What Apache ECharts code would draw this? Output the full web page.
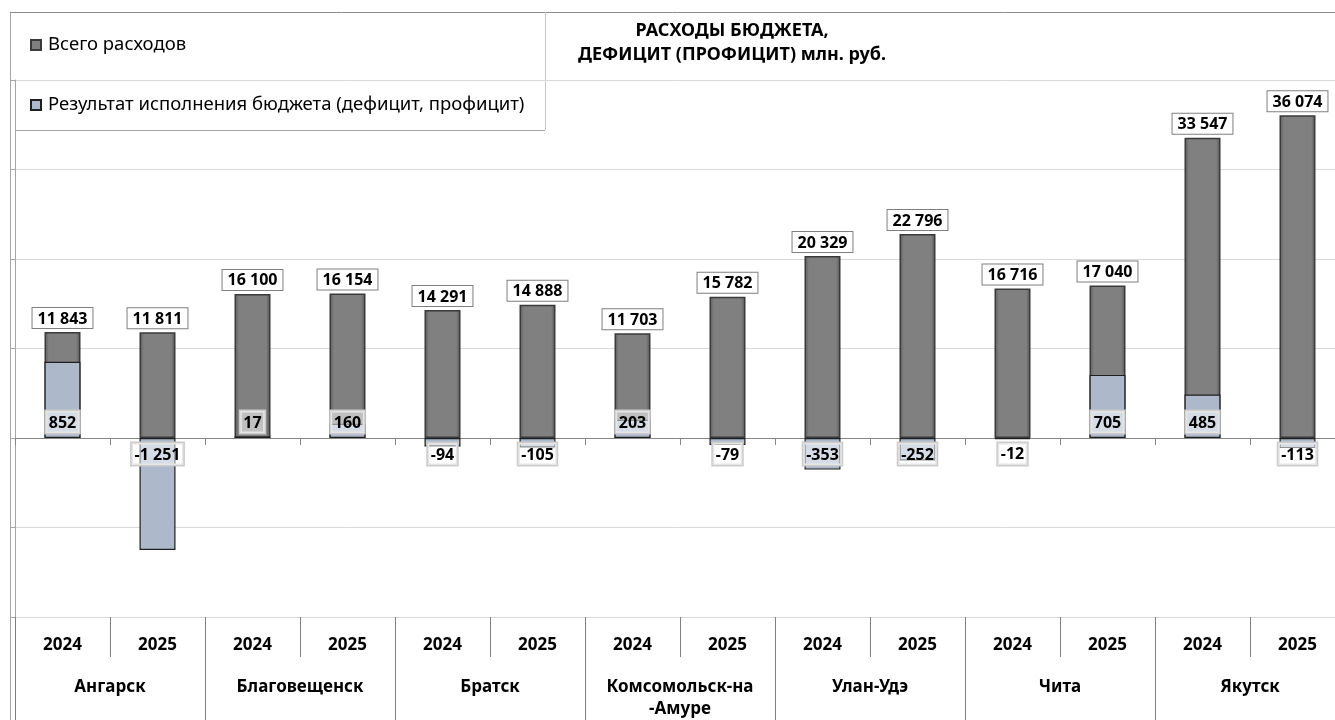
<!DOCTYPE html>
<html>
<head>
<meta charset="utf-8">
<script src="https://cdn.jsdelivr.net/npm/echarts@6/dist/echarts.min.js"></script>
<style>
  html, body { margin: 0; padding: 0; background: #fff; }
  #chart { width: 1335px; height: 720px; }
</style>
</head>
<body>
<div id="chart"></div>
<script>
// данные
const years = ['2024', '2025', '2024', '2025', '2024', '2025', '2024', '2025', '2024', '2025', '2024', '2025', '2024', '2025']
const cities = ['Ангарск', 'Благовещенск', 'Братск', 'Комсомольск-на\n-Амуре', 'Улан-Удэ', 'Чита', 'Якутск']
const totalSpend = [11843, 11811, 16100, 16154, 14291, 14888, 11703, 15782, 20329, 22796, 16716, 17040, 33547, 36074]
const balance = [852, -1251, 17, 160, -94, -105, 203, -79, -353, -252, -12, 705, 485, -113]
const seriesNames = ['Всего расходов', 'Результат исполнения бюджета (дефицит, профицит)']

const FONT = '"Noto Sans", "DejaVu Sans", sans-serif'
const LINE = '#a6a6a6'

function fmt (v) {
  const s = Math.abs(v).toString().replace(/\B(?=(\d{3})+(?!\d))/g, ' ')
  return (v < 0 ? '-' : '') + s
}

const chart = echarts.init(document.getElementById('chart'))

chart.setOption({
  animation: false,
  textStyle: { fontFamily: FONT },
  grid: { left: 15, top: 80, width: 1330, height: 537, outerBoundsMode: 'none' },
  legend: {
    data: seriesNames,
    orient: 'vertical',
    left: 25,
    top: 29,
    itemGap: 38,
    itemWidth: 10,
    itemHeight: 10,
    icon: 'rect',
    textStyle: { fontSize: 18.5, color: '#000', lineHeight: 22, padding: [0, 0, 0, 2], fontFamily: FONT }
  },
  graphic: [
    // рамка и клетки легенды / заголовка
    { type: 'line', shape: { x1: 10.5, y1: 12, x2: 10.5, y2: 720 }, style: { stroke: LINE, lineWidth: 1 }, silent: true },
    { type: 'line', shape: { x1: 10, y1: 12.5, x2: 1335, y2: 12.5 }, style: { stroke: '#8c8c8c', lineWidth: 1 }, silent: true },
    { type: 'line', shape: { x1: 15, y1: 130.5, x2: 545, y2: 130.5 }, style: { stroke: LINE, lineWidth: 1 }, silent: true },
    { type: 'line', shape: { x1: 545.5, y1: 12, x2: 545.5, y2: 130 }, style: { stroke: '#c8c8c8', lineWidth: 1 }, silent: true },
    {
      type: 'text',
      x: 732,
      y: 19,
      style: {
        text: 'РАСХОДЫ БЮДЖЕТА,\nДЕФИЦИТ (ПРОФИЦИТ) млн. руб.',
        textAlign: 'center',
        textVerticalAlign: 'top',
        font: 'bold 18px ' + FONT,
        lineHeight: 24,
        fill: '#000'
      },
      silent: true
    }
  ],
  xAxis: [
    {
      type: 'category',
      data: years,
      position: 'bottom',
      axisLine: { onZero: true, lineStyle: { color: '#868686', width: 1 } },
      axisTick: { show: true, length: 7, lineStyle: { color: '#868686' } },
      axisLabel: { show: false },
      splitLine: { show: false }
    },
    {
      type: 'category',
      data: years,
      position: 'bottom',
      axisLine: { show: false, onZero: false },
      axisTick: { show: true, interval: 0, length: 40, lineStyle: { color: '#7f7f7f' } },
      axisLabel: { show: true, interval: 0, margin: 20, fontSize: 17, fontWeight: 'bold', color: '#000', fontFamily: FONT }
    },
    {
      type: 'category',
      data: cities,
      position: 'bottom',
      axisLine: { show: false, onZero: false },
      axisTick: { show: true, interval: 0, length: 105, lineStyle: { color: '#7f7f7f' } },
      axisLabel: { show: true, interval: 0, margin: 59, fontSize: 17, fontWeight: 'bold', color: '#000', lineHeight: 22, fontFamily: FONT }
    }
  ],
  yAxis: [
    {
      type: 'value',
      min: -20000,
      max: 40000,
      interval: 10000,
      axisLine: { show: true, lineStyle: { color: LINE } },
      axisTick: { show: true, length: 5, lineStyle: { color: LINE } },
      axisLabel: { show: false },
      splitLine: { show: true, lineStyle: { color: '#d9d9d9', width: 1 } }
    },
    {
      type: 'value',
      min: -2000,
      max: 4000,
      interval: 1000,
      show: false,
      splitLine: { show: false }
    }
  ],
  series: [
    {
      name: seriesNames[0],
      type: 'bar',
      xAxisIndex: 0,
      yAxisIndex: 0,
      barWidth: 36,
      barGap: '-100%',
      data: totalSpend,
      itemStyle: {
        color: {
          type: 'linear', x: 0, y: 0, x2: 1, y2: 0,
          colorStops: [
            { offset: 0, color: '#575757' },
            { offset: 0.12, color: '#808080' },
            { offset: 0.88, color: '#808080' },
            { offset: 1, color: '#525252' }
          ]
        },
        borderColor: '#3a3a3a',
        borderWidth: 1.5
      },
      label: {
        show: true,
        position: 'top',
        distance: 4,
        formatter: p => fmt(p.value),
        fontSize: 16,
        fontWeight: 'bold',
        color: '#000',
        backgroundColor: '#fff',
        borderColor: '#7f7f7f',
        borderWidth: 1,
        padding: [3, 5, 1, 5]
      }
    },
    {
      name: seriesNames[1],
      type: 'bar',
      xAxisIndex: 0,
      yAxisIndex: 1,
      barWidth: 36,
      barGap: '-100%',
      z: 3,
      data: balance.map(v => ({
        value: v,
        label: { position: v >= 0 ? 'insideBottom' : 'insideTop' }
      })),
      itemStyle: {
        color: '#adb9ca',
        borderColor: '#1f1f1f',
        borderWidth: 1.2
      },
      label: {
        show: true,
        distance: 5,
        formatter: p => fmt(p.value),
        fontSize: 16,
        fontWeight: 'bold',
        color: '#000',
        backgroundColor: 'rgba(255,255,255,0.5)',
        borderColor: '#cccccc',
        borderWidth: 1.5,
        padding: [4, 3, 2, 3]
      }
    }
  ]
})
</script>
</body>
</html>
